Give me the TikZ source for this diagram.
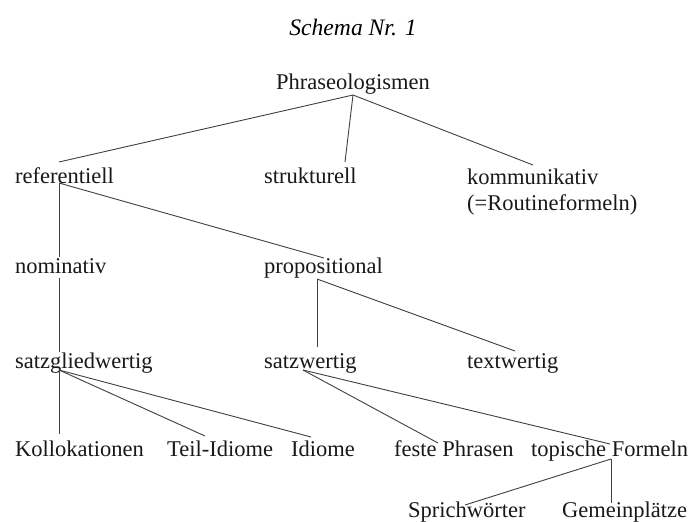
\documentclass[tikz,border=0pt]{standalone}
\usepackage{fontspec}
\setmainfont{Liberation Serif}
\usetikzlibrary{calc}
\begin{document}
\begin{tikzpicture}[x=1pt,y=-1pt,
  lbl/.style={anchor=base west,inner sep=0pt,font=\fontsize{22.5}{27}\selectfont,text=black!90},
  edge/.style={draw=black!75,line width=0.9pt}]
\useasboundingbox[fill=white] (0,0) rectangle (694,522);
\node[anchor=base,inner sep=0pt,font=\fontsize{23.6}{27}\selectfont\itshape] (title) at (353,35) {Schema Nr. 1};
\node[lbl] (phr) at (276,89) {Phraseologismen};
\node[lbl] (ref) at (15,183) {referentiell};
\node[lbl] (str) at (264,183) {strukturell};
\node[lbl] (kom) at (467,184) {kommunikativ};
\node[lbl] (rou) at (467,210) {(=Routineformeln)};
\node[lbl] (nom) at (15,273) {nominativ};
\node[lbl] (prop) at (264,273) {propositional};
\node[lbl] (sg) at (15,368) {satzgliedwertig};
\node[lbl] (sw) at (264,368) {satzwertig};
\node[lbl] (tw) at (467,368) {textwertig};
\node[lbl] (koll) at (15,456) {Kollokationen};
\node[lbl] (teil) at (167,456) {Teil-Idiome};
\node[lbl] (idi) at (291,456) {Idiome};
\node[lbl] (fes) at (394,456) {feste Phrasen};
\node[lbl] (top) at (531,456) {topische Formeln};
\node[lbl] (spr) at (408,517) {Sprichwörter};
\node[lbl] (gem) at (562,517) {Gemeinplätze};
% connection points
\coordinate (phr-b) at ($(phr.base west)+(77,6)$);
\coordinate (ref-t) at ($(ref.base west)+(44,-21)$);
\coordinate (ref-b) at ($(ref.base west)+(44,0)$);
\coordinate (str-t) at ($(str.base west)+(81,-21)$);
\coordinate (kom-t) at ($(kom.base west)+(66,-19)$);
\coordinate (nom-t) at ($(nom.base west)+(44,-16)$);
\coordinate (nom-b) at ($(nom.base west)+(44,5)$);
\coordinate (prop-t) at ($(prop.base west)+(60,-15)$);
\coordinate (prop-b) at ($(prop.base west)+(53,6)$);
\coordinate (sg-t) at ($(sg.base west)+(44,-16)$);
\coordinate (sg-b) at ($(sg.base west)+(44,2)$);
\coordinate (sw-t) at ($(sw.base west)+(53,-21)$);
\coordinate (sw-b) at ($(sw.base west)+(39,2)$);
\coordinate (tw-t) at ($(tw.base west)+(48,-17)$);
\coordinate (koll-t) at ($(koll.base west)+(44,-22)$);
\coordinate (teil-t) at ($(teil.base west)+(38,-20)$);
\coordinate (idi-t) at ($(idi.base west)+(20,-19)$);
\coordinate (fes-t) at ($(fes.base west)+(44,-13)$);
\coordinate (top-t) at ($(top.base west)+(79,-12)$);
\coordinate (top-b) at ($(top.base west)+(80,3)$);
\coordinate (spr-t) at ($(spr.base west)+(57,-12)$);
\coordinate (gem-t) at ($(gem.base west)+(49,-14)$);
\draw[edge] (phr-b) -- (ref-t);
\draw[edge] (phr-b) -- (str-t);
\draw[edge] (phr-b) -- (kom-t);
\draw[edge] (ref-b) -- (nom-t);
\draw[edge] (ref-b) -- (prop-t);
\draw[edge] (nom-b) -- (sg-t);
\draw[edge] (prop-b) -- (sw-t);
\draw[edge] (prop-b) -- (tw-t);
\draw[edge] (sg-b) -- (koll-t);
\draw[edge] (sg-b) -- (teil-t);
\draw[edge] (sg-b) -- (idi-t);
\draw[edge] (sw-b) -- (fes-t);
\draw[edge] (sw-b) -- (top-t);
\draw[edge] (top-b) -- (spr-t);
\draw[edge] (top-b) -- (gem-t);
\end{tikzpicture}
\end{document}
